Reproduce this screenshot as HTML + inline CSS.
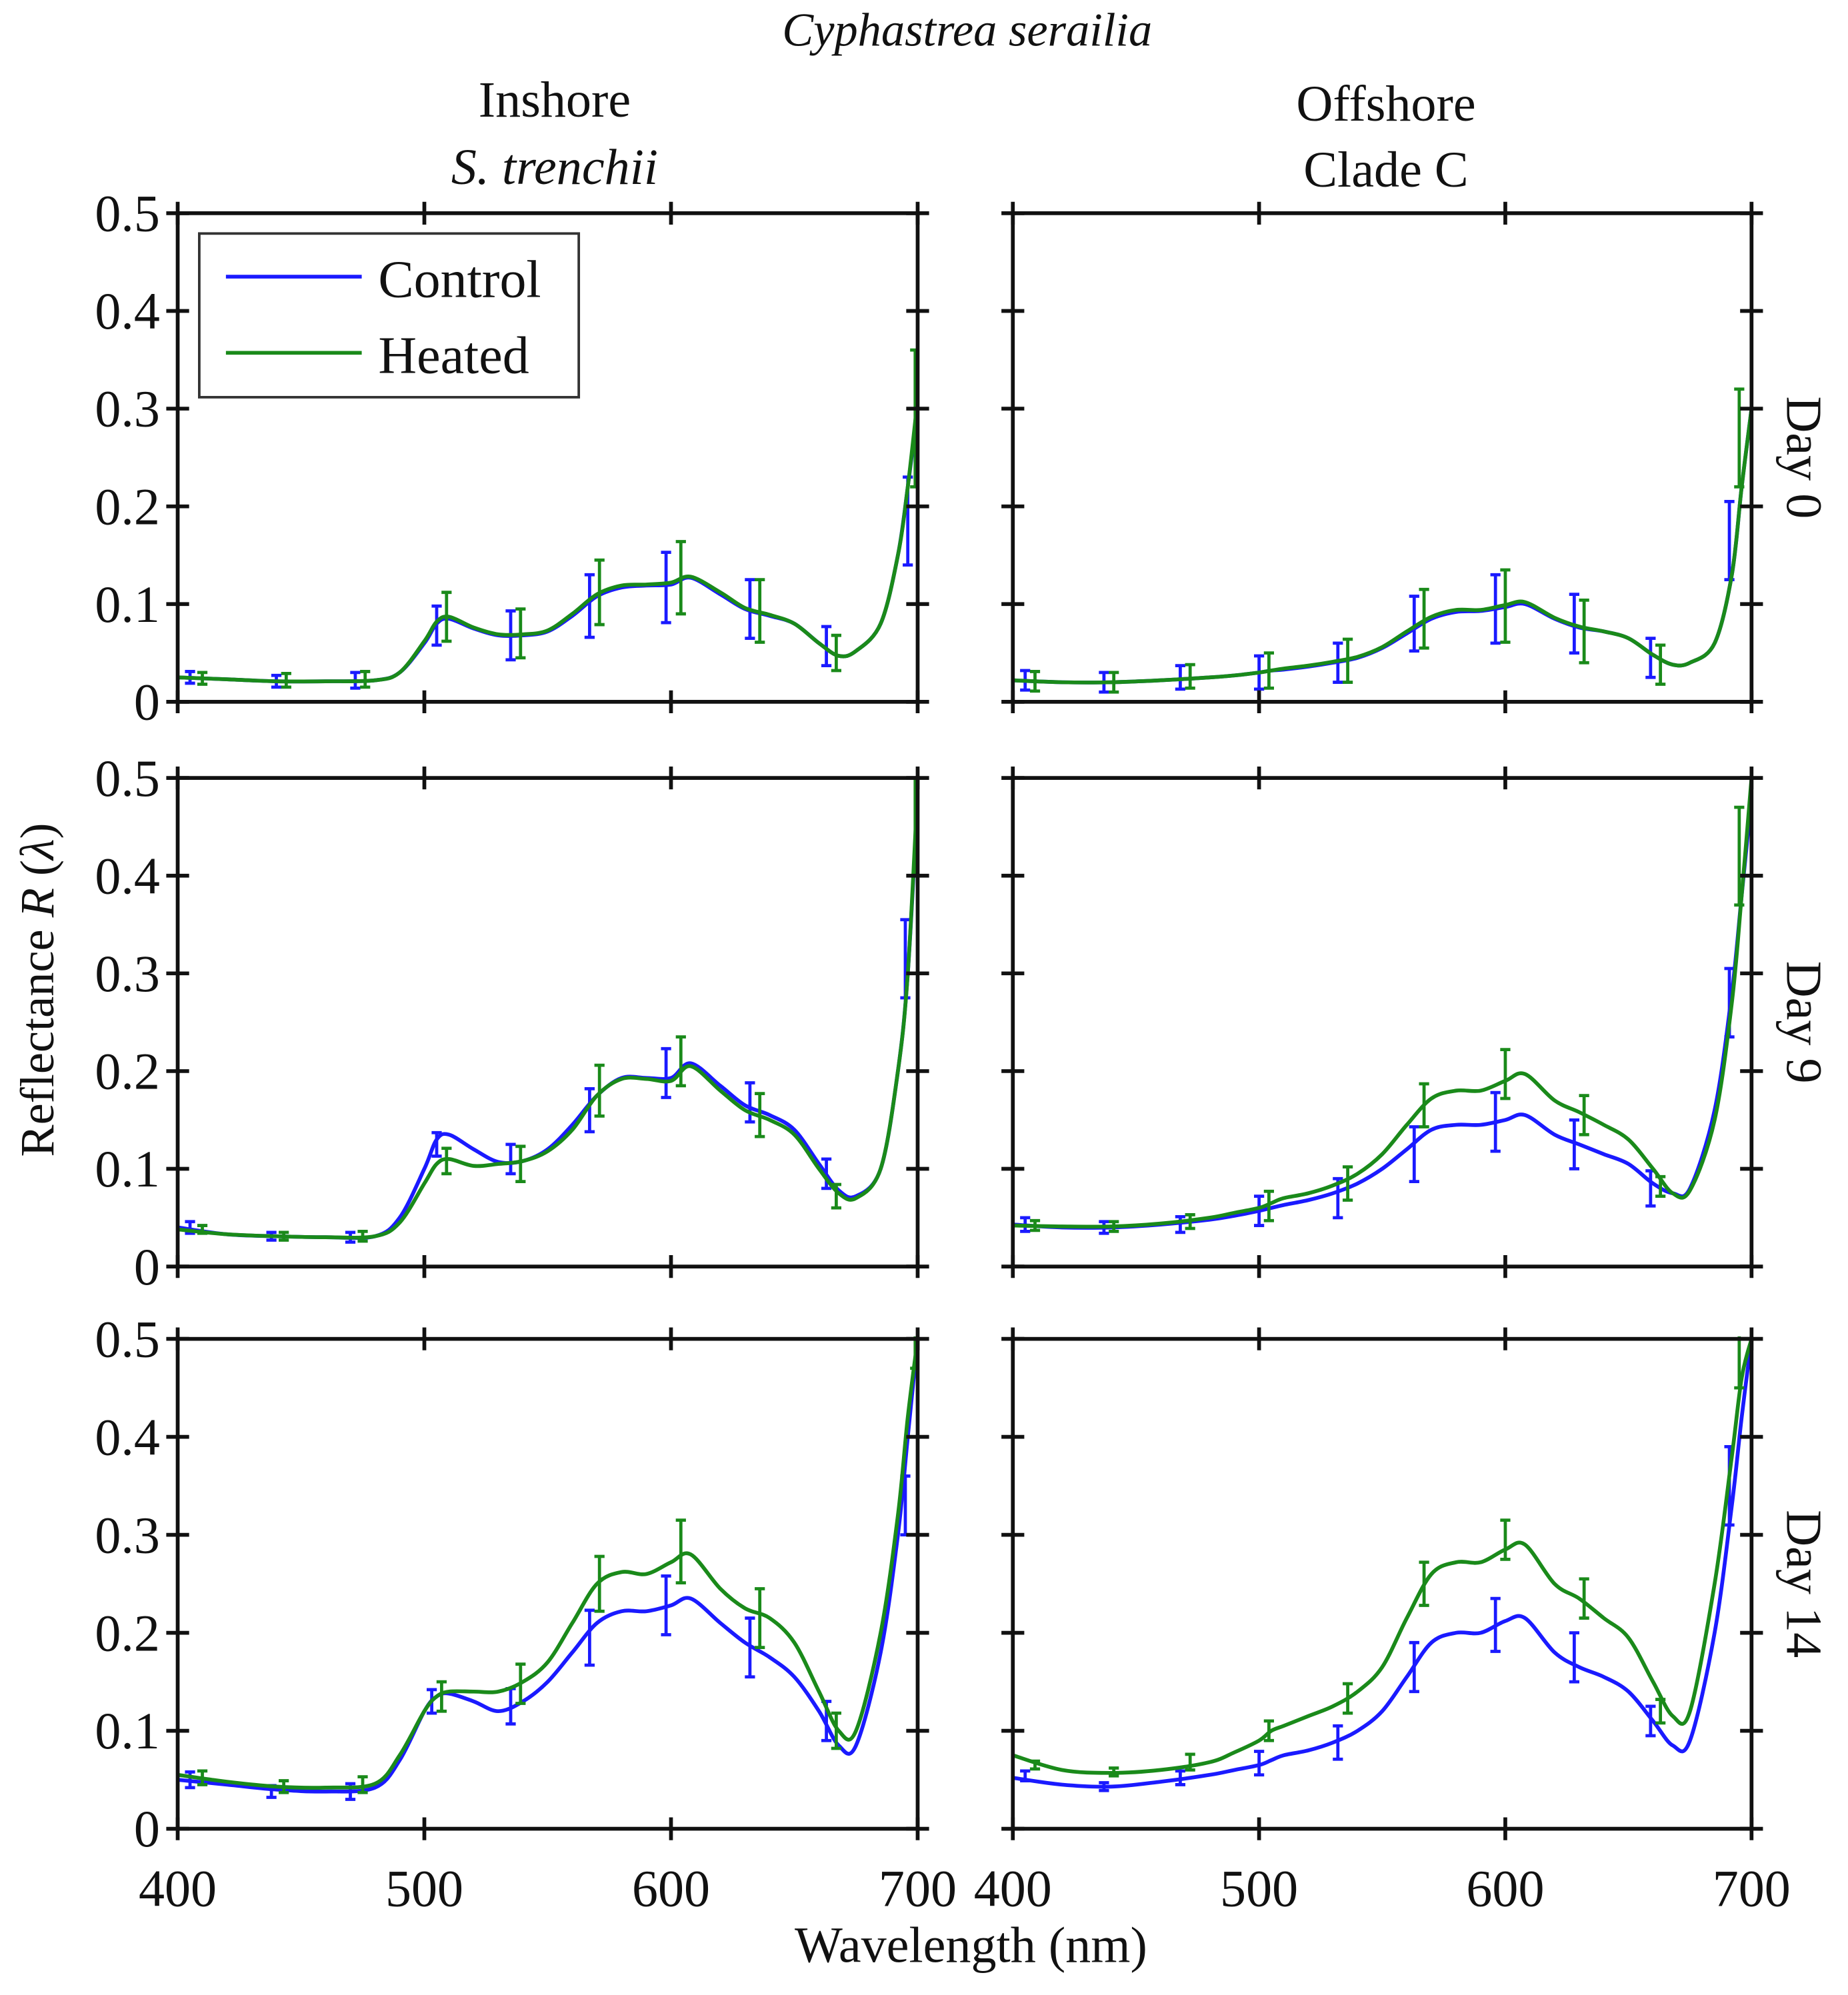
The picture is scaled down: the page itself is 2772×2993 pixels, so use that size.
<!DOCTYPE html>
<html><head><meta charset="utf-8"><style>
html,body{margin:0;padding:0;background:#fff}
svg{display:block}
text{font-family:"Liberation Serif",serif;fill:#111}
</style></head><body>
<svg id="chart" width="2772" height="2993" viewBox="0 0 1456 1572" preserveAspectRatio="none" xmlns="http://www.w3.org/2000/svg">
<defs></defs>
<text x="762" y="36" font-size="37" font-style="italic" text-anchor="middle">Cyphastrea serailia</text>
<text x="437" y="92" font-size="40" text-anchor="middle">Inshore</text>
<text x="437" y="145" font-size="40" font-style="italic" text-anchor="middle">S. trenchii</text>
<text x="1092" y="95" font-size="40" text-anchor="middle">Offshore</text>
<text x="1092" y="147" font-size="40" text-anchor="middle">Clade C</text>
<text transform="translate(42,780) rotate(-90)" font-size="38" text-anchor="middle">Reflectance <tspan font-style="italic">R</tspan> (<tspan font-style="italic">λ</tspan>)</text>
<text x="765" y="1546" font-size="40" text-anchor="middle">Wavelength (nm)</text>
<g id="panels"></g>
</svg>
<script>
const wl=[400,420,440,460,480,490,500,505,510,520,530,540,550,560,570,580,590,600,608,620,630,640,650,660,668,675,685,692,696,700];
const yTicks=[0,0.1,0.2,0.3,0.4,0.5];
const yTickLabels=["0","0.1","0.2","0.3","0.4","0.5"];
const xTicks=[400,500,600,700];
const xTickLabels=["400","500","600","700"];
const dayLabels=["Day 0","Day 9","Day 14"];
// Inshore Day 0
const in0Control=[.025,.023,.021,.021,.022,.03,.06,.08,.085,.075,.068,.068,.072,.088,.108,.117,.119,.12,.127,.11,.095,.088,.08,.06,.047,.052,.08,.15,.22,.3];
const in0Heated=[.025,.023,.021,.021,.022,.03,.062,.082,.087,.076,.069,.069,.073,.09,.11,.119,.12,.122,.128,.112,.096,.089,.08,.06,.047,.052,.08,.15,.22,.31];
const in0CtrlErr=[[405,.025,.006],[440,.021,.006],[472,.022,.008],[505,.078,.02],[535,.068,.025],[567,.098,.032],[598,.117,.036],[632,.095,.03],[663,.057,.02],[696,.185,.045]];
const in0HeatErr=[[410,.024,.006],[444,.022,.007],[476,.023,.008],[509,.087,.025],[539,.07,.025],[571,.112,.033],[604,.127,.037],[636,.093,.032],[667,.05,.018],[699,.29,.07]];
// Offshore Day 0
const off0Control=[.022,.02,.02,.022,.025,.027,.03,.032,.033,.036,.04,.045,.055,.07,.085,.092,.093,.097,.1,.085,.076,.072,.065,.048,.038,.04,.06,.13,.22,.3];
const off0Heated=[.022,.02,.02,.022,.025,.027,.03,.032,.034,.037,.041,.046,.056,.072,.087,.094,.094,.099,.102,.086,.077,.072,.065,.048,.038,.04,.06,.13,.22,.3];
const off0CtrlErr=[[405,.022,.01],[437,.02,.01],[468,.025,.012],[500,.03,.017],[532,.04,.02],[563,.08,.028],[596,.095,.035],[628,.08,.03],[659,.045,.02],[691,.165,.04]];
const off0HeatErr=[[409,.021,.01],[441,.02,.01],[472,.026,.012],[504,.032,.018],[536,.042,.022],[567,.085,.03],[600,.098,.037],[632,.072,.032],[663,.038,.02],[695,.27,.05]];
// Inshore Day 9
const in9Control=[.04,.033,.031,.03,.031,.05,.1,.13,.135,.12,.107,.108,.12,.145,.175,.193,.193,.193,.208,.185,.165,.155,.14,.105,.078,.072,.1,.2,.3,.48];
const in9Heated=[.038,.033,.031,.03,.031,.045,.085,.105,.11,.103,.105,.108,.118,.14,.175,.192,.192,.19,.205,.18,.16,.15,.135,.1,.075,.07,.1,.2,.3,.49];
const in9CtrlErr=[[405,.04,.006],[438,.031,.004],[470,.03,.005],[505,.125,.012],[535,.11,.015],[567,.16,.022],[598,.198,.025],[632,.168,.02],[663,.095,.015],[695,.315,.04]];
const in9HeatErr=[[410,.038,.004],[443,.031,.004],[475,.031,.005],[509,.108,.013],[539,.105,.018],[571,.18,.026],[604,.21,.025],[636,.155,.022],[667,.072,.012],[699,.45,.05]];
// Offshore Day 9
const off9Control=[.043,.04,.04,.043,.048,.052,.057,.06,.063,.068,.075,.085,.1,.12,.14,.145,.145,.15,.155,.135,.125,.115,.105,.085,.075,.08,.16,.28,.38,.48];
const off9Heated=[.042,.041,.041,.044,.05,.055,.06,.065,.07,.075,.083,.095,.115,.145,.172,.18,.18,.19,.197,.17,.158,.145,.13,.1,.075,.078,.15,.27,.38,.5];
const off9CtrlErr=[[405,.043,.007],[437,.04,.006],[468,.043,.008],[500,.057,.015],[532,.07,.02],[563,.115,.028],[596,.148,.03],[628,.125,.025],[659,.08,.018],[691,.27,.035]];
const off9HeatErr=[[409,.042,.005],[441,.041,.005],[472,.046,.007],[504,.062,.015],[536,.085,.017],[567,.165,.022],[600,.197,.025],[632,.155,.02],[663,.082,.01],[695,.42,.05]];
// Inshore Day 14
const in14Control=[.05,.045,.04,.038,.042,.07,.12,.135,.138,.13,.12,.13,.15,.18,.21,.222,.222,.228,.235,.21,.19,.175,.155,.12,.085,.085,.18,.3,.4,.5];
const in14Heated=[.055,.048,.043,.042,.046,.075,.12,.135,.14,.14,.14,.15,.17,.21,.25,.262,.26,.272,.28,.245,.225,.215,.19,.14,.1,.1,.2,.32,.42,.5];
const in14CtrlErr=[[405,.05,.008],[438,.038,.006],[470,.038,.008],[503,.13,.012],[535,.125,.018],[567,.195,.028],[598,.228,.03],[632,.185,.03],[663,.11,.02],[695,.33,.03]];
const in14HeatErr=[[410,.052,.007],[443,.043,.006],[475,.045,.008],[507,.135,.015],[539,.148,.02],[571,.25,.028],[604,.283,.032],[636,.215,.03],[667,.1,.018],[699,.5,.03]];
// Offshore Day 14
const off14Control=[.052,.045,.043,.048,.055,.06,.065,.07,.075,.08,.088,.1,.12,.155,.19,.2,.2,.212,.215,.18,.165,.155,.14,.11,.085,.09,.2,.33,.42,.5];
const off14Heated=[.075,.06,.057,.06,.068,.078,.09,.1,.105,.115,.125,.14,.165,.215,.26,.272,.272,.285,.29,.25,.235,.215,.195,.15,.115,.12,.25,.38,.46,.5];
const off14CtrlErr=[[405,.054,.005],[437,.043,.004],[468,.052,.007],[500,.067,.012],[532,.088,.017],[563,.165,.025],[596,.208,.027],[628,.175,.025],[659,.11,.015],[691,.35,.04]];
const off14HeatErr=[[409,.065,.004],[441,.058,.004],[472,.068,.008],[504,.1,.01],[536,.133,.015],[567,.25,.022],[600,.295,.02],[632,.235,.02],[663,.12,.012],[695,.48,.03]];

const NS="http://www.w3.org/2000/svg";
const svg=document.getElementById('chart');
const root=document.getElementById('panels');
const defs=svg.querySelector('defs');
const cols=[[140,723],[798,1380]];
const rows=[[168,553],[613,998],[1055,1441]];
const panels=[
 [0,0,in0Control,in0Heated,in0CtrlErr,in0HeatErr],
 [1,0,off0Control,off0Heated,off0CtrlErr,off0HeatErr],
 [0,1,in9Control,in9Heated,in9CtrlErr,in9HeatErr],
 [1,1,off9Control,off9Heated,off9CtrlErr,off9HeatErr],
 [0,2,in14Control,in14Heated,in14CtrlErr,in14HeatErr],
 [1,2,off14Control,off14Heated,off14CtrlErr,off14HeatErr]];
const BLUE="#1a1aff",GREEN="#1a8a1a";
function mk(tag,attrs,parent){const e=document.createElementNS(NS,tag);for(const k in attrs)e.setAttribute(k,attrs[k]);(parent||root).appendChild(e);return e;}
function smooth(pts){let d=`M${pts[0][0]},${pts[0][1]}`;for(let i=0;i<pts.length-1;i++){const p0=pts[i-1]||pts[i],p1=pts[i],p2=pts[i+1],p3=pts[i+2]||p2;
 const c1=[p1[0]+(p2[0]-p0[0])/6,p1[1]+(p2[1]-p0[1])/6],c2=[p2[0]-(p3[0]-p1[0])/6,p2[1]-(p3[1]-p1[1])/6];
 d+=` C${c1[0]},${c1[1]} ${c2[0]},${c2[1]} ${p2[0]},${p2[1]}`;}return d;}
panels.forEach((p,idx)=>{
 const [ci,ri,ctrl,heat,ce,he]=p;const [x0,x1]=cols[ci];const [y0,y1]=rows[ri];
 const xs=w=>x0+(w-400)/300*(x1-x0);const ys=v=>y1-v/0.5*(y1-y0);
 const g=mk('g',{});
 
 
 const cp=mk('clipPath',{id:'cp'+idx},defs);mk('rect',{x:x0,y:y0-2,width:x1-x0,height:y1-y0+2},cp);
 const plot=mk('g',{'clip-path':`url(#cp${idx})`},g);
 [[ctrl,ce,BLUE,'control'],[heat,he,GREEN,'heated']].forEach(([vals,errs,col,nm])=>{
  const path=mk('path',{d:smooth(wl.map((w,i)=>[xs(w),ys(vals[i])])),fill:'none',stroke:col,'stroke-width':3},plot);
  
  
  errs.forEach(([w,v,e])=>{const x=xs(w),a=ys(v+e),b=ys(Math.max(0,v-e));
   const eb=mk('path',{d:`M${x},${a}V${b}M${x-4},${a}H${x+4}M${x-4},${b}H${x+4}`,stroke:col,'stroke-width':2.5,fill:'none'},plot);
   
   });
 });
 const fr=mk('rect',{x:x0,y:y0,width:x1-x0,height:y1-y0,fill:'none',stroke:'#111','stroke-width':3},g);
 
 
 xTicks.forEach((t,i)=>{const x=xs(t);mk('path',{d:`M${x},${y0-9}V${y0+9}M${x},${y1-9}V${y1+9}`,stroke:'#111','stroke-width':3},g);
  if(ri===2){const tl=mk('text',{x:x,y:1502,'font-size':41,'text-anchor':'middle'},g);tl.textContent=xTickLabels[i];
   
   }});
 yTicks.forEach((t,i)=>{const y=ys(t);mk('path',{d:`M${x0-9},${y}H${x0+9}M${x1-9},${y}H${x1+9}`,stroke:'#111','stroke-width':3},g);
  if(ci===0){const tl=mk('text',{x:x0-14,y:y+14,'font-size':41,'text-anchor':'end'},g);tl.textContent=yTickLabels[i];
   
   }});
 if(ci===1){const dl=mk('text',{transform:`translate(1408,${(y0+y1)/2}) rotate(90)`,'font-size':40,'text-anchor':'middle'},g);dl.textContent=dayLabels[ri];
  
  }
});
// legend
const lg=mk('g',{});


mk('rect',{x:157,y:184,width:299,height:129,fill:'#fff',stroke:'#333','stroke-width':2},lg);
const le1=mk('g',{},lg);


mk('line',{x1:178,x2:285,y1:218,y2:218,stroke:BLUE,'stroke-width':3},le1);
const t1=mk('text',{x:298,y:234,'font-size':42},le1);t1.textContent='Control';
const le2=mk('g',{},lg);


mk('line',{x1:178,x2:285,y1:278,y2:278,stroke:GREEN,'stroke-width':3},le2);
const t2=mk('text',{x:298,y:294,'font-size':42},le2);t2.textContent='Heated';
</script>
</body></html>
